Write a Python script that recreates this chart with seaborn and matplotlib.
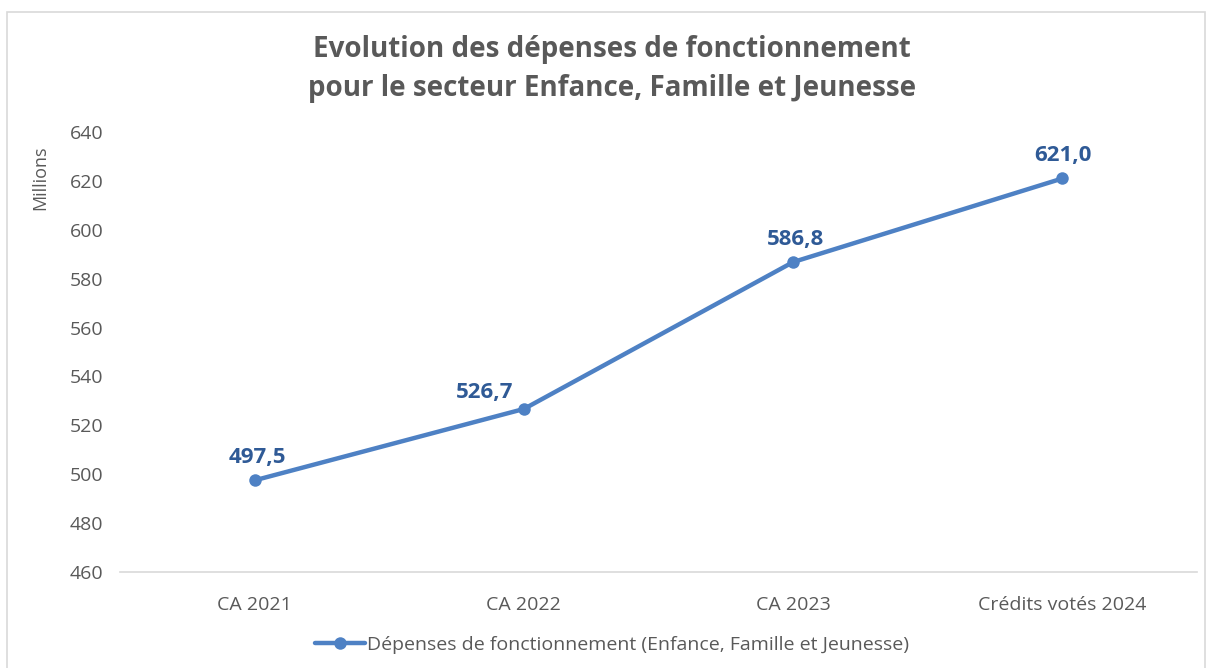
import matplotlib
matplotlib.use("Agg")
import matplotlib.pyplot as plt
import matplotlib.patches as mpatches
import seaborn as sns
import pandas as pd

categories = ["CA 2021", "CA 2022", "CA 2023", "Crédits votés 2024"]
values = [497.5, 526.7, 586.8, 621.0]
series_name = "Dépenses de fonctionnement (Enfance, Famille et Jeunesse)"
title = "Evolution des dépenses de fonctionnement\npour le secteur Enfance, Famille et Jeunesse"
y_ticks = [460, 480, 500, 520, 540, 560, 580, 600, 620, 640]

LINE = "#4E81C4"
LABEL = "#2F5A96"
GREY = "#595959"

sns.set_theme(style="white")
plt.rcParams["font.family"] = ["Open Sans", "DejaVu Sans"]

df = pd.DataFrame({"cat": categories, "val": values})

fig = plt.figure(figsize=(12.12, 6.68), dpi=100)
ax = fig.add_axes([0.099, 0.1437, 0.8887, 0.6587])

sns.lineplot(data=df, x="cat", y="val", ax=ax, color=LINE, linewidth=3.2,
             marker="o", markersize=9, markeredgewidth=0, label=series_name,
             sort=False)

# label offsets in points (dx, dy)
offsets = [(2, 9), (-28, 4), (2, 9), (0, 9)]
for i, (v, off) in enumerate(zip(values, offsets)):
    ax.annotate(f"{v:.1f}".replace(".", ","), (i, v), textcoords="offset points",
                xytext=off, ha="center", va="bottom", fontsize=16,
                fontweight="bold", color=LABEL)

ax.set_xlim(-0.5, len(categories) - 0.5)
ax.set_ylim(y_ticks[0], y_ticks[-1])
ax.set_yticks(y_ticks)
ax.tick_params(axis="both", labelsize=14, colors=GREY, length=0)
ax.tick_params(axis="x", pad=17)
ax.tick_params(axis="y", pad=12)
ax.set_xlabel("")
ax.set_ylabel("Millions", fontsize=13, color=GREY)
ax.yaxis.set_label_coords(-0.066, 0.895)
for s in ["top", "right", "left"]:
    ax.spines[s].set_visible(False)
ax.spines["bottom"].set_color("#D9D9D9")
ax.spines["bottom"].set_linewidth(1.2)

fig.suptitle(title, x=0.505, y=0.948, fontsize=20, fontweight="bold",
             color=GREY, linespacing=1.45)

ax.get_legend().remove()
fig.legend(*ax.get_legend_handles_labels(), loc="center",
           bbox_to_anchor=(0.505, 0.034), frameon=False, fontsize=14,
           labelcolor=GREY, handlelength=2.6, handletextpad=0.1)

fig.patches.append(mpatches.Rectangle((7 / 1212, -0.01), 1198 / 1212, 1.0 - 12 / 668 + 0.01,
                                      transform=fig.transFigure, fill=False,
                                      edgecolor="#D9D9D9", linewidth=1.2))

fig.savefig("out.png", dpi=100)
